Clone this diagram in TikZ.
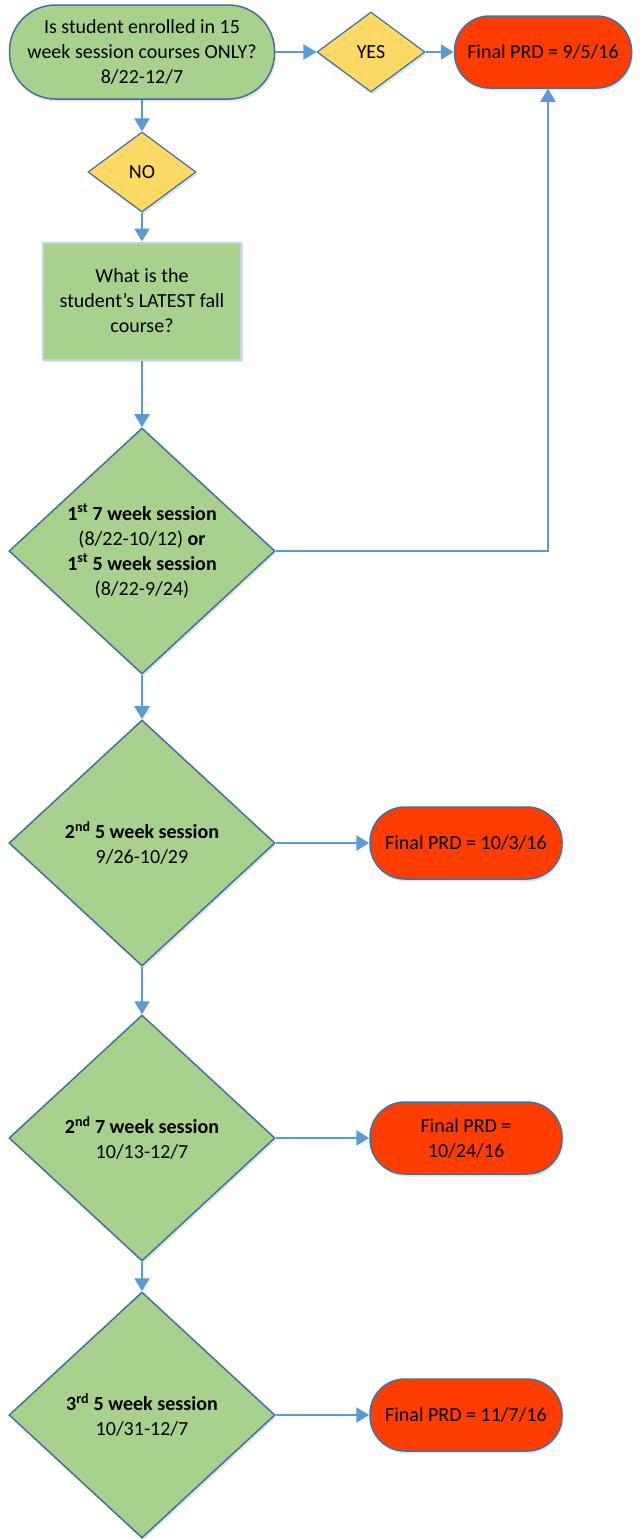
\documentclass[tikz,border=0pt]{standalone}
\usepackage{fontspec}
\setmainfont{Carlito}
\usetikzlibrary{shapes.geometric, arrows.meta, shadows}
\definecolor{boxgreen}{HTML}{A9D18E}
\definecolor{edgeblue}{HTML}{41719C}
\definecolor{lightedge}{HTML}{C5D3E3}
\definecolor{yesno}{HTML}{FFD966}
\definecolor{prdred}{HTML}{FF3D00}
\definecolor{flow}{HTML}{5B9BD5}
\definecolor{shade}{HTML}{9DB5D3}
\tikzstyle{soft} = [drop shadow={fill=shade, opacity=0.35, shadow xshift=1.5pt, shadow yshift=-2.5pt}]
\tikzstyle{start} = [soft, draw=edgeblue, fill=boxgreen, rectangle, rounded corners=46pt, line width=1.5pt, minimum width=265pt, minimum height=94pt, align=center]
\tikzstyle{answer} = [soft, draw=edgeblue, fill=yesno, diamond, line width=1.2pt, minimum width=108pt, minimum height=80pt, inner sep=0pt]
\tikzstyle{query} = [soft, draw=lightedge, fill=boxgreen, rectangle, line width=2pt, minimum width=198pt, minimum height=117pt, align=center]
\tikzstyle{session} = [soft, draw=edgeblue, fill=boxgreen, diamond, aspect=1.08, line width=1.5pt, minimum width=266pt, minimum height=246pt, inner sep=0pt, align=center]
\tikzstyle{prd} = [soft, draw=edgeblue, fill=prdred, rectangle, rounded corners=35pt, line width=1.5pt, minimum width=192pt, minimum height=72pt, align=center]
\tikzstyle{flowline} = [draw=flow, line width=2.5pt]

\begin{document}
\begin{tikzpicture}[x=1pt, y=1pt, >={Triangle[length=13pt,width=15pt]}, font=\fontsize{20}{25}\selectfont]
        \useasboundingbox (0,0) rectangle (640,-1539);
        % 起始问题
        \node [start] (q) at (142,-52) {Is student enrolled in 15\\week session courses ONLY?\\8/22-12/7};
        % 是：直接得到结果
        \node [answer, right of=q, node distance=229pt] (yes) {YES};
        \node [prd, right of=yes, node distance=172pt, minimum width=177pt] (prd1) {Final PRD = 9/5/16};
        % 否：查看最晚的课程
        \node [answer, below of=q, node distance=120pt] (no) {NO};
        \node [query, below of=no, node distance=129pt] (latest) {What is the\\student's LATEST fall\\course?};
        % 各个学期段
        \node [session, below of=latest, node distance=250pt] (s1) {\textbf{1\textsuperscript{st} 7 week session}\\(8/22-10/12) \textbf{or}\\\textbf{1\textsuperscript{st} 5 week session}\\(8/22-9/24)};
        \node [session, below of=s1, node distance=292pt] (s2) {\textbf{2\textsuperscript{nd} 5 week session}\\9/26-10/29};
        \node [session, below of=s2, node distance=295pt] (s3) {\textbf{2\textsuperscript{nd} 7 week session}\\10/13-12/7};
        \node [session, below of=s3, node distance=277pt] (s4) {\textbf{3\textsuperscript{rd} 5 week session}\\10/31-12/7};
        % 对应的结果
        \node [prd, right of=s2, node distance=324pt] (prd2) {Final PRD = 10/3/16};
        \node [prd, right of=s3, node distance=324pt] (prd3) {Final PRD =\\10/24/16};
        \node [prd, right of=s4, node distance=324pt] (prd4) {Final PRD = 11/7/16};
        % 连接各个节点
        \draw [flowline, ->] (q) -- (yes);
        \draw [flowline, ->] (yes) -- (prd1);
        \draw [flowline, ->] (q) -- (no);
        \draw [flowline, ->] (no) -- (latest);
        \draw [flowline, ->] (latest) -- (s1);
        \draw [flowline, ->] (s1.east) -| ([xshift=5pt]prd1.south);
        \draw [flowline, ->] (s1) -- (s2);
        \draw [flowline, ->] (s2) -- (s3);
        \draw [flowline, ->] (s3) -- (s4);
        \draw [flowline, ->] (s2) -- (prd2);
        \draw [flowline, ->] (s3) -- (prd3);
        \draw [flowline, ->] (s4) -- (prd4);
    \end{tikzpicture}
\end{document}
